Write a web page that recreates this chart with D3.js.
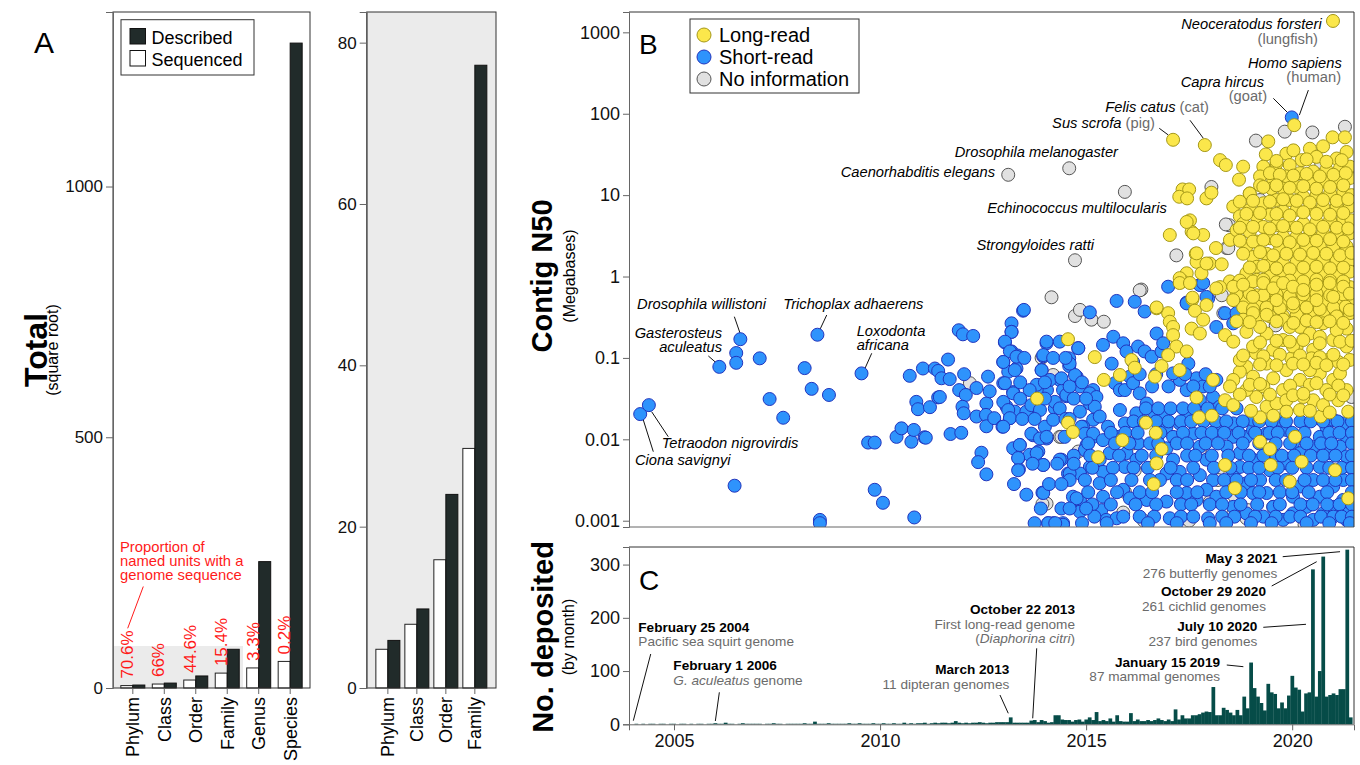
<!DOCTYPE html>
<html lang="en">
<head>
<meta charset="utf-8">
<style>
  body { margin: 0; background: #fff; }
  svg { font-family: "Liberation Sans", Arial, Helvetica, sans-serif; }
  .frame { fill: none; stroke: #333; stroke-width: 1px; }
  .lead { stroke: #111; stroke-width: 1px; fill: none; }
  .sub { fill: #6b6b6b; }
</style>
</head>
<body>
<svg width="1360" height="765"></svg>
<script src="https://cdn.jsdelivr.net/npm/d3@7"></script>
<script>

// ---------- data: panel A (square-root totals) ----------
var ranks = ["Phylum", "Class", "Order", "Family", "Genus", "Species"];
var described = [5.9, 9.8, 24.0, 77.2, 252, 1286];
var sequenced = [4.8, 7.9, 15.9, 29.7, 40, 53];
var proportion = ["70.6%", "66%", "44.6%", "15.4%", "3.3%", "0.2%"];
var ticksA = [0, 500, 1000];
var ticksInset = [0, 20, 40, 60, 80];

// ---------- data: panel B (year, log10 contig N50 in Mb) ----------
var longRead = [
  [2020.99,3.14],[2017.11,1.68],[2017.88,1.615],[2020.05,1.86],
  [2018.25,1.43],[2018.39,1.37],[2018.81,1.35],[2018.71,1.19],[2017.34,1.07],[2017.50,1.07],[2017.26,0.98],[2017.45,0.96],
  [2017.92,0.96],[2018.04,1.03],[2017.52,0.69],[2017.56,0.55],[2017.03,0.51],[2017.84,0.51],[2018.15,0.35],[2017.66,0.28],
  [2017.68,0.18],[2018.00,0.16],[2018.29,0.15],[2017.44,0.04],[2017.35,-0.06],[2017.80,0.04],[2017.58,-0.28],[2016.99,-0.45],
  [2016.71,-0.39],[2018.49,-0.06],[2018.25,-0.13],[2018.65,-0.10],[2018.57,0.86],[2018.49,0.45],[2018.73,0.74],[2018.97,1.02],
  [2018.73,0.92],[2018.65,0.57],[2018.89,0.37],[2017.44,0.67],[2017.60,0.53],[2017.27,-0.02],[2017.68,0.285],[2017.92,0.16],
  [2019.42,1.66],[2019.36,1.50],[2019.86,1.51],[2020.03,1.55],[2020.43,1.57],[2020.75,1.60],[2020.98,1.71],[2021.28,1.71],
  [2021.32,1.53],[2021.08,1.45],[2020.59,1.47],[2020.23,1.43],
  [2019.94,1.37],[2019.62,1.39],[2019.30,1.35],[2019.22,1.23],[2019.54,1.19],[2019.86,1.23],[2020.19,1.27],[2020.51,1.29],
  [2020.83,1.31],[2021.16,1.33],[2021.40,1.35],[2021.40,1.21],[2021.08,1.17],[2020.75,1.17],[2020.43,1.14],[2020.11,1.10],
  [2019.78,1.08],[2019.50,1.08],[2019.22,1.12],
  [2018.97,1.02],[2019.30,0.90],[2019.62,0.94],[2019.94,0.94],[2020.27,0.98],[2020.59,1.00],[2020.92,1.02],[2021.24,1.04],
  [2021.44,1.00],[2021.40,0.86],[2021.08,0.86],[2020.75,0.86],[2020.43,0.84],[2020.11,0.82],[2019.78,0.80],[2019.46,0.76],
  [2019.14,0.74],[2018.97,0.82],
  [2018.81,0.65],[2018.97,0.55],[2019.30,0.61],[2019.62,0.63],[2019.94,0.63],[2020.27,0.65],[2020.59,0.67],[2020.92,0.69],
  [2021.24,0.71],[2021.44,0.69],[2021.40,0.53],[2021.08,0.53],[2020.75,0.53],[2020.43,0.51],[2020.11,0.49],[2019.78,0.49],
  [2019.46,0.47],[2019.14,0.43],
  [2019.05,0.24],[2019.38,0.28],[2019.70,0.33],[2020.03,0.35],[2020.35,0.37],[2020.67,0.37],[2021.00,0.37],[2021.32,0.37],
  [2021.40,0.20],[2021.08,0.20],[2020.75,0.20],[2020.43,0.18],[2020.11,0.18],[2019.78,0.16],[2019.46,0.14],[2019.14,0.12],
  [2018.89,0.04],[2019.14,-0.04],[2019.46,0.00],[2019.78,0.00],[2020.11,0.02],[2020.43,0.04],[2020.75,0.04],[2021.08,0.04],
  [2021.40,0.06],[2021.40,-0.13],[2021.08,-0.13],[2020.75,-0.13],[2020.43,-0.15],[2020.11,-0.17],[2019.78,-0.19],[2019.46,-0.21],
  [2019.14,-0.23],
  [2018.89,-0.29],[2019.22,-0.37],[2019.54,-0.33],[2019.86,-0.33],[2020.19,-0.31],[2020.51,-0.29],[2020.83,-0.29],[2021.16,-0.29],
  [2021.40,-0.29],[2021.40,-0.45],[2021.08,-0.45],[2020.75,-0.45],[2020.43,-0.45],[2020.11,-0.47],[2019.78,-0.49],[2019.46,-0.49],
  [2019.14,-0.49],
  [2019.62,1.42],[2020.35,1.44],[2020.83,1.41],[2021.20,1.43],
  [2019.46,1.27],[2019.70,1.25],[2020.03,1.24],[2020.35,1.26],[2020.67,1.23],[2021.00,1.25],[2021.30,1.27],
  [2019.30,1.10],[2019.62,1.12],[2019.94,1.09],[2020.27,1.11],[2020.59,1.08],[2020.92,1.10],[2021.24,1.12],
  [2019.05,0.93],[2019.46,0.92],[2019.78,0.95],[2020.11,0.93],[2020.43,0.91],[2020.75,0.94],[2021.08,0.93],[2021.36,0.95],
  [2018.89,0.77],[2019.22,0.78],[2019.62,0.77],[2019.94,0.75],[2020.27,0.79],[2020.59,0.77],[2020.92,0.76],[2021.24,0.78],
  [2018.73,0.60],[2019.05,0.61],[2019.46,0.59],[2019.78,0.62],[2020.11,0.60],[2020.43,0.58],[2020.75,0.61],[2021.08,0.60],[2021.36,0.59],
  [2018.73,0.44],[2019.05,0.43],[2019.30,0.45],[2019.62,0.44],[2019.94,0.42],[2020.27,0.45],[2020.59,0.44],[2020.92,0.46],[2021.24,0.43],
  [2018.81,0.28],[2019.22,0.30],[2019.54,0.26],[2019.86,0.28],[2020.19,0.27],[2020.51,0.29],[2020.83,0.28],[2021.16,0.26],[2021.44,0.29],
  [2018.97,0.11],[2019.30,0.13],[2019.62,0.10],[2019.94,0.09],[2020.27,0.11],[2020.59,0.12],[2020.92,0.10],[2021.24,0.11],
  [2018.73,-0.05],[2019.05,-0.06],[2019.30,-0.04],[2019.62,-0.07],[2019.94,-0.05],[2020.27,-0.06],[2020.59,-0.04],[2020.92,-0.05],[2021.24,-0.06],
  [2018.65,-0.22],[2018.97,-0.21],[2019.30,-0.23],[2019.62,-0.22],[2019.94,-0.24],[2020.27,-0.22],[2020.59,-0.21],[2020.92,-0.23],[2021.24,-0.22],
  [2018.81,-0.38],[2019.05,-0.40],[2019.38,-0.38],[2019.70,-0.39],[2020.03,-0.37],[2020.35,-0.38],[2020.67,-0.40],[2021.00,-0.38],[2021.30,-0.37],
  [2016.71,-0.38],[2017.58,-0.26],[2017.64,-0.42],[2017.92,-0.35],[2017.84,-0.53],[2017.56,-0.64],[2017.76,-0.70],[2017.03,-0.555],
  [2017.11,-0.62],[2017.11,-0.72],[2017.19,-0.86],[2017.44,-0.92],[2017.27,-1.15],[2016.99,-0.965],[2016.83,-1.10],[2016.67,-1.23],
  [2016.10,-1.025],[2016.18,-1.12],[2015.82,-1.21],[2015.21,-0.99],[2015.43,-1.27],[2014.56,-0.77],[2013.81,-1.50],[2014.56,-1.795],
  [2014.68,-1.91],[2015.88,-2.01],[2016.45,-1.795],[2016.69,-1.92],[2016.83,-2.12],[2016.71,-2.295],[2015.29,-2.22],[2016.64,-2.55],
  [2017.68,-1.485],[2017.74,-1.73],[2018.05,-1.71],[2018.37,-2.315],[2018.61,-2.60],[2019.22,-2.03],[2019.46,-2.12],[2019.48,-2.315],
  [2019.94,-2.52],[2020.07,-1.97],[2020.23,-2.275],[2021.04,-2.38],[2021.36,-2.725],[2021.36,-1.66],[2020.69,-1.72],
  [2017.27,-0.08],[2017.52,-0.08],[2018.16,-0.145],[2018.57,-0.125],[2018.81,-0.10],[2019.30,-0.08],[2019.54,-0.145],[2019.78,-0.08],
  [2020.02,-0.125],[2020.27,-0.165],[2020.59,-0.10],[2020.91,-0.08],[2021.24,-0.125],[2021.40,-0.21],
  [2018.81,-0.53],[2019.05,-0.45],[2019.38,-0.47],[2019.78,-0.53],[2020.19,-0.62],[2020.43,-0.70],[2020.75,-0.575],[2021.08,-0.49],
  [2021.40,-0.41],[2021.32,-0.64],
  [2018.37,-0.72],[2018.89,-0.68],[2019.38,-0.70],[2019.78,-0.78],[2020.11,-0.86],[2020.51,-0.90],[2020.995,-0.78],[2021.32,-0.86],
  [2021.40,-1.025],[2019.12,-0.94],[2019.54,-0.90],[2019.98,-1.005],[2020.47,-1.005],[2020.87,-1.025],[2021.12,-1.05],
  [2018.89,-1.11],[2018.73,-1.17],[2018.57,-1.27],[2018.49,-1.35],[2019.05,-1.23],[2019.54,-1.25],[2019.78,-1.395],[2020.19,-1.27],
  [2020.67,-1.19],[2020.995,-1.27],[2021.32,-1.395],
  [2018.37,-1.52],[2018.57,-1.58],[2019.13,-1.48],[2019.38,-1.60],[2019.62,-1.56],[2019.86,-1.52],[2020.51,-1.52],[2020.75,-1.58],
  [2021.12,-1.52],[2018.08,-1.27],[2019.22,-1.73],[2019.54,-1.71],[2020.19,-1.64],
  [2018.57,-0.29],[2019.05,-0.25],[2020.02,-0.33],[2020.59,-0.29],[2020.995,-0.25],[2019.62,-0.29],[2019.22,-0.62],[2019.94,-0.62],
  [2020.67,-0.74],[2021.08,-0.66],[2019.38,-1.07],[2019.86,-1.15],[2020.43,-1.15],[2021.16,-1.19],[2020.02,-0.86],[2019.05,-0.86],
  [2018.73,-1.025],[2020.83,-1.395],[2020.27,-1.48],[2019.30,-1.35],[2018.89,-1.395],
  [2018.65,-0.55],[2018.97,-0.56],[2019.62,-0.55],[2020.03,-0.57],[2020.35,-0.54],[2020.59,-0.56],[2020.91,-0.55],[2021.24,-0.57],
  [2018.57,-0.80],[2019.22,-0.81],[2019.62,-0.79],[2019.94,-0.80],[2020.27,-0.78],[2020.67,-0.82],[2021.16,-0.80],[2021.44,-0.79],
  [2018.81,-0.97],[2019.30,-0.98],[2019.70,-0.96],[2020.19,-0.97],[2020.67,-0.99],[2021.00,-0.96],
  [2019.22,-1.08],[2019.62,-1.09],[2020.02,-1.07],[2020.27,-1.08],[2020.59,-1.06],[2020.83,-1.09],[2021.24,-1.08],
  [2018.97,-1.33],[2019.22,-1.32],[2019.95,-1.34],[2020.43,-1.33],[2020.59,-1.31],[2021.12,-1.34],
  [2018.73,-1.45],[2019.46,-1.45],[2020.02,-1.46],[2020.27,-1.44],[2020.91,-1.45],[2021.24,-1.46],
  [2019.00,-1.65],[2019.86,-1.66],[2020.43,-1.65],[2020.91,-1.67]
];

var shortRead = [
  [2019.99,1.955],
  [2004.18,-1.69],[2004.39,-1.58],[2006.10,-1.11],[2006.51,-0.94],[2006.51,-1.06],[2006.61,-0.77],[2007.08,-1.005],[2007.32,-1.505],
  [2007.65,-1.735],[2006.47,-2.57],[2008.17,-1.125],[2008.34,-1.38],[2008.76,-1.455],[2008.48,-0.715],[2008.54,-2.99],[2008.54,-3.03],
  [2009.55,-1.19],[2009.71,-2.04],[2009.87,-2.04],[2009.87,-2.62],[2010.07,-2.78],[2010.40,-1.97],[2010.52,-1.865],[2010.76,-2.03],
  [2010.82,-1.885],[2011.08,-1.975],[2010.72,-1.22],[2010.88,-1.54],[2010.92,-1.63],[2011.21,-1.605],[2011.04,-1.13],[2011.33,-1.13],
  [2011.41,-1.16],[2011.41,-1.485],[2010.83,-2.96],
  [2011.65,-1.02],[2011.49,-1.25],[2011.69,-1.26],[2011.91,-0.66],[2012.01,-0.71],[2012.26,-0.73],[2012.04,-1.20],[2011.45,-1.48],
  [2011.92,-1.395],[2012.08,-1.455],[2012.00,-1.60],[2012.03,-1.68],[2012.34,-1.37],[2012.58,-1.56],[2012.66,-1.41],[2012.99,-1.31],
  [2013.23,-1.42],[2012.62,-1.23],[2011.11,-1.98],[2011.71,-1.935],[2011.97,-1.92],[2012.34,-1.72],[2012.57,-1.70],[2012.58,-1.84],
  [2012.77,-1.74],[2012.97,-1.845],[2013.15,-1.74],[2013.27,-1.66],[2013.07,-1.60],[2013.47,-0.42],[2013.19,-0.575],[2013.19,-0.68],
  [2013.03,-0.81],[2013.19,-0.92],[2013.33,-0.97],[2012.99,-1.05],[2013.11,-1.17],[2013.31,-1.13],[2012.46,-2.165],[2012.38,-2.28],
  [2012.58,-2.43],[2013.55,-2.68],[2013.94,-2.655],[2013.39,-2.07],[2013.23,-2.11],[2013.36,-2.23],[2013.37,-2.37],[2013.63,-2.19],
  [2013.84,-2.15],[2014.04,-1.99],[2013.71,-1.95],[2014.00,-1.845],[2013.96,-2.315],[2014.40,-2.25],[2015.09,-0.44],[2014.04,-0.82],
  [2013.96,-0.98],[2013.92,-1.15],[2014.36,-0.80],[2014.81,-0.88],[2014.59,-1.005],[2014.59,-1.10],[2014.77,-1.23],[2014.36,-1.27],
  [2014.44,-1.395],[2014.52,-1.47],[2014.24,-1.62],[2014.05,-1.395],[2013.80,-1.395],[2013.71,-1.66],[2013.59,-1.66],[2014.85,-1.35],
  [2015.17,-1.395],[2015.09,-1.56],[2015.17,-1.76],[2014.93,-1.845],[2015.17,-1.97],[2015.01,-2.07],[2015.09,-2.34],[2014.85,-2.42],
  [2014.56,-2.42],[2014.68,-2.705],[2014.85,-2.87],[2014.20,-3.03],[2014.44,-3.03],[2014.08,-3.03],
  [2013.19,-0.68],[2013.03,-0.80],[2013.15,-0.92],[2013.31,-0.985],[2012.99,-1.05],[2013.27,-1.15],[2013.03,-1.31],[2013.23,-1.435],
  [2012.99,-1.54],[2013.11,-1.64],[2013.15,-1.74],[2012.99,-1.845],[2013.39,-2.07],[2013.35,-2.23],[2013.35,-2.38],[2013.96,-2.66],
  [2014.08,-3.03],[2014.44,-3.05],
  [2014.04,-0.80],[2013.92,-1.15],[2013.96,-0.965],[2013.80,-1.33],[2013.63,-1.395],[2013.55,-1.66],[2013.67,-1.58],[2013.88,-1.64],
  [2014.12,-1.27],[2014.40,-1.25],[2014.24,-1.54],[2014.36,-1.62],[2014.52,-1.455],[2014.60,-1.35],[2014.73,-1.21],[2014.60,-1.07],
  [2014.81,-0.88],[2013.67,-1.93],[2013.88,-1.99],[2014.04,-1.97],[2013.80,-2.17],[2013.96,-2.315],[2014.36,-2.25],[2014.60,-2.42],
  [2014.20,-1.76],[2014.48,-1.97],[2014.89,-1.845],[2014.85,-1.66],[2015.09,-1.435],[2014.97,-1.93],[2014.97,-2.13],[2014.97,-2.50],
  [2014.85,-2.745],[2014.85,-2.89],[2014.77,-2.725],
  [2015.25,-1.48],[2015.21,-1.60],[2015.33,-1.72],[2015.17,-1.93],[2015.41,-2.01],[2015.53,-1.845],[2015.57,-2.17],[2015.33,-2.25],
  [2015.41,-2.40],[2015.33,-2.54],[2015.41,-2.705],[2015.37,-2.87],[2015.49,-2.99],[2015.74,-2.97],[2015.70,-1.31],[2015.82,-1.395],
  [2015.62,-1.07],[2015.41,-0.84],[2015.66,-0.74],[2015.90,-0.82],[2015.98,-0.92],[2016.14,-1.05],[2016.06,-1.23],[2015.94,-1.395],
  [2015.82,-1.64],[2015.94,-1.805],[2015.78,-1.97],[2015.98,-2.17],[2016.22,-2.25],[2015.94,-2.34],[2015.90,-2.62],[2016.06,-2.725],
  [2016.26,-0.86],[2016.42,-0.92],[2016.59,-0.985],[2016.71,-0.70],[2016.83,-0.92],[2016.87,-0.82],[2016.14,-1.31],[2016.30,-1.435],
  [2016.22,-1.68],[2016.26,-2.05],
  [2016.47,-1.56],[2016.63,-1.66],[2016.87,-1.72],[2016.95,-1.845],[2017.11,-1.97],[2016.95,-2.11],[2017.11,-2.25],[2017.27,-2.40],
  [2016.95,-2.42],[2016.79,-2.50],[2016.95,-2.765],[2017.03,-2.97],[2016.47,-2.745],[2016.55,-2.05],[2017.27,-1.805],[2017.44,-1.68],
  [2017.44,-1.395],[2017.27,-1.27],[2017.11,-1.19],[2017.48,-1.07],[2017.68,-1.25],[2017.84,-1.35],[2017.76,-1.52],[2017.60,-1.93],
  [2017.76,-2.09],[2017.92,-2.25],[2017.76,-2.44],[2018.08,-2.50],[2017.92,-2.62],[2018.16,-2.705],[2017.96,-2.97],[2017.44,-2.66],
  [2017.68,-2.745],
  [2018.16,-1.27],[2018.08,-1.48],[2018.24,-1.60],[2018.57,-1.805],[2018.16,-1.885],[2018.57,-1.97],[2018.41,-2.09],[2018.73,-2.17],
  [2018.89,-1.97],[2019.05,-1.885],[2018.73,-2.34],[2019.05,-2.25],[2018.57,-2.46],[2018.89,-2.54],[2019.22,-2.50],[2019.05,-2.66],
  [2019.38,-2.66],[2018.57,-2.83],[2018.89,-2.91],[2019.30,-2.95],[2019.54,-2.83],[2019.46,-2.38],[2019.62,-2.21],[2019.38,-1.93],
  [2019.86,-1.885],[2019.70,-1.76],[2019.05,-1.76],
  [2020.02,-2.05],[2020.19,-2.17],[2019.86,-2.295],[2020.51,-2.09],[2020.67,-1.97],[2020.83,-1.845],[2020.995,-1.76],[2021.24,-1.805],
  [2021.32,-1.97],[2021.16,-2.09],[2020.91,-2.17],[2020.67,-2.34],[2020.51,-2.50],[2020.19,-2.58],[2020.02,-2.705],[2020.35,-2.83],
  [2020.67,-2.705],[2020.995,-2.58],[2021.24,-2.50],[2021.40,-2.34],[2021.32,-2.21],[2021.36,-2.91],[2021.32,-2.99],[2021.08,-2.91],
  [2020.75,-2.91],[2020.51,-2.99],[2020.02,-2.91],[2019.78,-2.99],[2021.24,-2.745],[2020.995,-2.83],
  [2016.99,-0.125],[2015.74,-0.30],[2016.18,-0.31],[2016.42,-0.43],[2013.49,-0.41],[2017.44,-0.32],[2017.96,-0.27],[2017.76,-0.105],
  [2018.16,-0.62],[2018.57,-0.575],[2018.73,-0.47],[2017.84,-0.08],[2017.44,-0.33],[2017.92,-0.25],[2018.37,-0.45],[2018.65,-0.45],
  [2016.45,-1.62],[2016.75,-1.62],[2017.05,-1.62],[2017.35,-1.62],[2017.62,-1.62],[2017.95,-1.62],[2018.30,-1.62],[2018.65,-1.62],
  [2016.15,-1.78],[2016.40,-1.78],[2016.70,-1.78],[2017.00,-1.78],[2017.30,-1.78],[2017.55,-1.78],[2017.85,-1.78],[2018.15,-1.78],
  [2018.40,-1.78],[2018.80,-1.78],[2019.20,-1.78],[2019.50,-1.78],[2019.85,-1.78],[2020.20,-1.78],[2020.45,-1.78],[2020.75,-1.78],
  [2021.10,-1.78],[2021.45,-1.78],
  [2015.60,-1.92],[2015.95,-1.92],[2016.25,-1.92],[2016.80,-1.92],[2017.35,-1.92],[2017.80,-1.92],[2018.05,-1.92],[2018.35,-1.92],
  [2018.70,-1.92],[2019.10,-1.92],[2019.45,-1.92],[2019.65,-1.92],[2020.00,-1.92],[2020.30,-1.92],[2020.90,-1.92],[2021.15,-1.92],
  [2021.45,-1.92],
  [2015.05,-2.05],[2015.70,-2.05],[2016.05,-2.05],[2016.75,-2.05],[2017.20,-2.05],[2017.45,-2.05],[2017.90,-2.05],[2018.20,-2.05],
  [2018.80,-2.05],[2019.20,-2.05],[2019.60,-2.05],[2019.95,-2.05],[2020.35,-2.05],[2020.70,-2.05],[2020.95,-2.05],[2021.45,-2.05],
  [2014.70,-2.20],[2015.10,-2.20],[2015.80,-2.20],[2016.35,-2.20],[2016.70,-2.20],[2017.45,-2.20],[2017.65,-2.20],[2018.05,-2.20],
  [2018.45,-2.20],[2018.95,-2.20],[2019.30,-2.20],[2019.75,-2.20],[2020.05,-2.20],[2020.45,-2.20],[2020.75,-2.20],[2021.05,-2.20],
  [2021.45,-2.20],
  [2015.15,-2.35],[2015.65,-2.35],[2016.15,-2.35],[2016.50,-2.35],[2017.05,-2.35],[2017.60,-2.35],[2018.10,-2.35],[2018.50,-2.35],
  [2018.95,-2.35],[2019.20,-2.35],[2019.65,-2.35],[2020.00,-2.35],[2020.35,-2.35],[2020.90,-2.35],[2021.20,-2.35],[2021.45,-2.35],
  [2014.60,-2.50],[2015.60,-2.50],[2016.10,-2.50],[2016.55,-2.50],[2017.20,-2.50],[2017.45,-2.50],[2018.35,-2.50],[2018.65,-2.50],
  [2019.00,-2.50],[2019.60,-2.50],[2019.85,-2.50],[2020.30,-2.50],[2020.75,-2.50],[2021.05,-2.50],[2021.45,-2.50],
  [2015.05,-2.65],[2015.75,-2.65],[2016.30,-2.65],[2016.60,-2.65],[2017.20,-2.65],[2017.70,-2.65],[2018.40,-2.65],[2018.75,-2.65],
  [2019.20,-2.65],[2019.70,-2.65],[2020.00,-2.65],[2020.40,-2.65],[2020.85,-2.65],[2021.45,-2.65],
  [2015.15,-2.80],[2015.60,-2.80],[2016.20,-2.80],[2016.70,-2.80],[2017.30,-2.80],[2017.55,-2.80],[2018.00,-2.80],[2018.30,-2.80],
  [2018.75,-2.80],[2019.15,-2.80],[2019.70,-2.80],[2020.20,-2.80],[2020.50,-2.80],[2020.85,-2.80],[2021.15,-2.80],[2021.45,-2.80],
  [2015.20,-2.95],[2015.90,-2.95],[2016.30,-2.95],[2016.65,-2.95],[2017.30,-2.95],[2017.60,-2.95],[2018.30,-2.95],[2018.60,-2.95],
  [2019.10,-2.95],[2019.60,-2.95],[2019.95,-2.95],[2020.20,-2.95],[2020.70,-2.95],[2021.00,-2.95],[2021.20,-2.95],[2021.45,-2.95],
  [2014.90,-3.03],[2015.50,-3.03],[2016.50,-3.03],[2017.20,-3.03],[2018.00,-3.03],[2018.40,-3.03],[2019.00,-3.03],[2019.50,-3.03],
  [2020.35,-3.03],[2020.90,-3.03],[2021.40,-3.03],
  [2016.60,-1.35],[2017.00,-1.35],[2017.60,-1.35],[2018.00,-1.35],[2016.30,-1.20],[2016.70,-1.20],[2017.40,-1.20],[2017.90,-1.20],
  [2013.50,-1.00],[2014.20,-1.00],[2014.50,-1.00],[2013.40,-1.30],[2014.00,-1.30],[2014.90,-1.30],[2013.40,-1.50],[2014.00,-1.50],
  [2014.70,-1.50],[2015.00,-1.50],[2013.45,-1.75],[2013.75,-1.75],[2014.50,-1.75],[2014.60,-1.75],[2013.70,-2.30],[2014.30,-2.30],
  [2014.70,-2.30],[2013.25,-2.55],[2014.10,-2.55],[2014.40,-2.55],[2013.90,-2.85],[2014.40,-2.85],[2014.60,-2.85],[2015.00,-2.85],
  [2013.75,-3.03],[2014.25,-3.03]
];

var noInfo = [
  [2013.11,1.25],[2014.59,1.33],[2015.94,1.04],[2014.73,0.20],[2014.16,-0.255],[2014.73,-0.485],[2014.85,-0.41],[2015.13,-0.53],
  [2015.43,-0.555],[2013.92,-1.00],[2014.20,-1.21],[2014.36,-1.97],[2014.81,-2.15],[2016.14,-2.05],[2016.18,-2.38],[2015.94,-2.645],
  [2014.04,-2.79],[2017.32,-2.79],[2017.32,-2.97],[2017.76,-2.13],[2018.20,-2.38],[2018.20,-2.50],[2018.00,-2.77],[2018.57,-2.91],
  [2018.89,-2.97],[2018.93,-2.87],[2019.54,-2.83],[2012.18,-1.31],[2013.94,-2.795],[2014.40,-1.97],[2016.34,-0.16],[2019.82,1.78],
  [2020.49,1.77],[2021.28,1.84],[2019.12,1.67],[2018.04,1.10],[2018.47,0.63],[2018.41,0.35],[2017.19,0.26],[2016.30,-0.17],
  [2018.39,0.64],[2018.45,0.35],[2018.29,-0.23],[2018.33,-0.45],[2019.22,0.94],[2019.50,1.30],[2020.70,1.40],[2021.30,0.20],
  [2018.90,-0.10],[2019.60,-0.60],[2021.44,-1.48],[2015.90,-2.90],[2016.40,-3.00],[2017.50,-3.00],[2019.50,-3.00],[2020.30,-3.05],
  [2018.60,-2.70]
];

// ---------- data: panel C (genomes deposited per month, Jan 2004 onwards) ----------
var countsStartYear = 2004;
var monthlyCounts = [
  0,1,0,1,0,1,1,0,1,1,0,1,        // 2004
  1,0,1,1,0,1,0,1,1,0,1,1,        // 2005
  2,1,1,3,1,1,0,1,2,1,1,1,        // 2006
  1,1,0,1,1,2,1,1,0,1,1,1,        // 2007
  1,1,2,1,1,5,1,1,1,2,1,1,        // 2008
  1,1,1,2,1,1,2,1,1,1,2,1,        // 2009
  1,2,1,1,2,1,1,3,1,2,1,2,        // 2010
  2,3,1,2,3,2,3,3,2,3,6,3,        // 2011
  2,3,2,3,3,4,3,2,3,3,4,4,        // 2012
  4,4,13,3,3,3,3,3,7,8,4,8,       // 2013
  6,3,4,17,17,9,8,8,5,8,9,5,      // 2014
  9,13,8,23,6,8,6,11,5,17,6,5,    // 2015
  5,21,6,9,6,6,8,6,8,11,8,6,      // 2016
  9,6,28,9,17,11,11,17,17,19,22,24,        // 2017
  23,70,17,17,31,27,22,17,27,17,52,30,     // 2018
  116,68,52,40,26,76,60,57,30,41,30,54,    // 2019
  91,69,65,24,58,60,291,52,100,315,52,55,  // 2020
  58,55,66,66,328,13                       // 2021
];

// ---------- annotations ----------
var bNotes = [
  { name: "Neoceratodus forsteri", common: "(lungfish)", pt: [2020.99, 3.14] },
  { name: "Homo sapiens", common: "(human)", pt: [2019.99, 1.955] },
  { name: "Capra hircus", common: "(goat)", pt: [2020.05, 1.86] },
  { name: "Felis catus", common: "(cat)", pt: [2017.88, 1.615] },
  { name: "Sus scrofa", common: "(pig)", pt: [2017.11, 1.68] },
  { name: "Drosophila melanogaster", pt: [2014.59, 1.33] },
  { name: "Caenorhabditis elegans", pt: [2013.11, 1.25] },
  { name: "Echinococcus multilocularis", pt: [2015.94, 1.04] },
  { name: "Strongyloides ratti", pt: [2014.73, 0.20] },
  { name: "Drosophila willistoni", pt: [2006.61, -0.77] },
  { name: "Gasterosteus\naculeatus", pt: [2006.10, -1.11] },
  { name: "Trichoplax adhaerens", pt: [2008.48, -0.715] },
  { name: "Loxodonta\nafricana", pt: [2009.55, -1.19] },
  { name: "Tetraodon nigrovirdis", pt: [2004.39, -1.58] },
  { name: "Ciona savignyi", pt: [2004.18, -1.69] }
];
// label placement (pixel offsets from the point)
var bLayout = [
  { a: "end", n: [-11.3, 8.5], c: [-15, 22.8] },
  { a: "end", n: [50, -49.8], c: [49.3, -35.3], l: [16.6, -27.3, 7.6, -2.3] },
  { a: "end", n: [-30.2, -38.4], c: [-27.2, -23.9], l: [-20.9, -26.8, -5.9, -11.8] },
  { a: "end", n: [4.2, -32.6], inline: true, l: [-14.8, -24.8, -1.5, -6.8] },
  { a: "end", n: [-18.1, -11.3], inline: true, l: [-13.8, -11.5, -4.8, -4.8] },
  { a: "end", n: [48.8, -11.3] },
  { a: "end", n: [-13.2, 2] },
  { a: "end", n: [41.9, 21] },
  { a: "end", n: [19, -10.5] },
  { a: "end", n: [25.7, -30.2], l: [-6, -22.5, -0.3, -6] },
  { a: "end", n: [2.7, -29], l: [-11, -10.9, -2.6, -3.6] },
  { a: "start", n: [-34.1, -25.7], l: [9.3, -19.7, 2.6, -5.4] },
  { a: "start", n: [-4.8, -37.7], l: [10.2, -20.1, 3.5, -5.1] },
  { a: "start", n: [12.8, 43], l: [2.8, 6.6, 19.4, 31.6] },
  { a: "start", n: [-5.2, 51], l: [3.1, 5.9, 13.1, 37.6] }
];

var cNotes = [
  { year: 2004, month: 2, head: "February 25 2004", sub: ["Pacific sea squirt genome"] },
  { year: 2006, month: 2, head: "February 1 2006", sub: ["_G. aculeatus_ genome"] },
  { year: 2013, month: 3, head: "March 2013", sub: ["11 dipteran genomes"] },
  { year: 2013, month: 10, head: "October 22 2013", sub: ["First long-read genome", "(_Diaphorina citri_)"] },
  { year: 2019, month: 1, head: "January 15 2019", sub: ["87 mammal genomes"] },
  { year: 2020, month: 7, head: "July 10 2020", sub: ["237 bird genomes"] },
  { year: 2020, month: 10, head: "October 29 2020", sub: ["261 cichlid genomes"] },
  { year: 2021, month: 5, head: "May 3 2021", sub: ["276 butterfly genomes"] }
];
// pixel offsets from the bar's foot (centre, baseline)
var cLayout = [
  { a: "start", t: [2.1, -92.6], l: [14.5, -70.3, -2.9, -3.6] },
  { a: "start", t: [-45.3, -54.3], l: [0.7, -32, -3.3, -3.3] },
  { a: "end", t: [-1.3, -50.3], l: [-10.6, -29.3, -2.3, -11] },
  { a: "end", t: [40.4, -110.3], l: [2.1, -76, -1.9, -6] },
  { a: "end", t: [-30.9, -57.6], l: [-24.2, -59.3, -7.6, -57.6] },
  { a: "end", t: [-55.5, -93.3], l: [-49.5, -97, -6.8, -100] },
  { a: "end", t: [-57.1, -128.3], l: [-51.4, -138.3, -6.4, -162.6] },
  { a: "end", t: [-69.8, -161], l: [-64.4, -167.6, -7.1, -172.6] }
];

// ---------- helpers ----------
var svg = d3.select("svg");

function tidyAxis(g, size) {
  g.attr("font-family", null).attr("font-size", null);
  g.select(".domain").attr("stroke", "#666");
  g.selectAll(".tick line").attr("stroke", "#666");
  g.selectAll(".tick text").attr("font-size", size).attr("fill", "#111");
}

function richText(sel, str, italicAll) {
  str.split("_").forEach(function(part, i) {
    if (!part) return;
    sel.append("tspan").text(part)
      .attr("font-style", (italicAll || i % 2 === 1) ? "italic" : null);
  });
}

function vLabel(x, y, txt, size, bold) {
  svg.append("text")
    .attr("transform", "translate(" + x + "," + y + ") rotate(-90)")
    .attr("text-anchor", "middle")
    .attr("font-size", size)
    .attr("font-weight", bold ? "bold" : null)
    .text(txt);
}

// ================= Panel A =================
var yA = d3.scaleLinear().domain([0, 1348]).range([688, 12]);
var xA = d3.scalePoint().domain(ranks).range([113, 310]).padding(0.63);
var insetRanks = ranks.slice(0, 4);
var insetMax = 83.8;
var yI = d3.scaleLinear().domain([0, insetMax]).range([688, 12]);
var xI = d3.scalePoint().domain(insetRanks).range([366.7, 496]).padding(0.73);
var barW = 12;

var gA = svg.append("g");
gA.append("rect")
  .attr("x", 113).attr("y", yA(insetMax))
  .attr("width", (xA("Family") + xA("Genus")) / 2 - 113)
  .attr("height", yA(0) - yA(insetMax))
  .attr("fill", "#ebebeb");

function drawBars(g, xs, ys, n) {
  var rows = d3.range(n).map(function(i) { return { r: ranks[i], s: sequenced[i], d: described[i] }; });
  g.selectAll(".seq").data(rows).enter().append("rect")
    .attr("x", function(d) { return xs(d.r) - barW; })
    .attr("y", function(d) { return ys(d.s); })
    .attr("width", barW)
    .attr("height", function(d) { return ys(0) - ys(d.s); })
    .attr("fill", "#fff").attr("stroke", "#222").attr("stroke-width", 1);
  g.selectAll(".des").data(rows).enter().append("rect")
    .attr("x", function(d) { return xs(d.r); })
    .attr("y", function(d) { return ys(d.d); })
    .attr("width", barW)
    .attr("height", function(d) { return ys(0) - ys(d.d); })
    .attr("fill", "#212b2a").attr("stroke", "#111").attr("stroke-width", 1);
}
drawBars(gA, xA, yA, 6);

gA.append("rect").attr("class", "frame").attr("x", 113).attr("y", 12).attr("width", 197).attr("height", 676);
gA.append("g").attr("transform", "translate(113,0)")
  .call(d3.axisLeft(yA).tickValues(ticksA).tickFormat(d3.format("d")).tickSize(7).tickPadding(3))
  .call(tidyAxis, 17);

function catAxis(g, xs, list) {
  list.forEach(function(r) {
    g.append("line").attr("x1", xs(r)).attr("x2", xs(r)).attr("y1", 688).attr("y2", 694).attr("stroke", "#666");
    g.append("text")
      .attr("transform", "translate(" + xs(r) + ",697) rotate(-90)")
      .attr("text-anchor", "end").attr("dy", "0.36em")
      .attr("font-size", 18).text(r);
  });
}
catAxis(gA, xA, ranks);

// proportion labels
ranks.forEach(function(r, i) {
  gA.append("text")
    .attr("transform", "translate(" + (xA(r) - barW / 2) + "," + (yA(sequenced[i]) - 7) + ") rotate(-90)")
    .attr("dy", "0.36em").attr("font-size", 17).attr("fill", "#ff1a1a")
    .text(proportion[i]);
});
var redNote = gA.append("text").attr("fill", "#ff1a1a").attr("font-size", 14.8);
["Proportion of", "named units with a", "genome sequence"].forEach(function(s, i) {
  redNote.append("tspan").attr("x", 120).attr("y", 552 + i * 14).text(s);
});
gA.append("line").attr("x1", 143.3).attr("y1", 586.5).attr("x2", 127.7).attr("y2", 628.3)
  .attr("stroke", "#ff1a1a").attr("stroke-width", 1);

// legend A
var legA = gA.append("g");
legA.append("rect").attr("x", 121).attr("y", 19.7).attr("width", 133).attr("height", 55.3)
  .attr("fill", "#fff").attr("stroke", "#333");
[["Described", "#212b2a", 44], ["Sequenced", "#fff", 66]].forEach(function(d) {
  legA.append("rect").attr("x", 130).attr("y", d[2] - 15.5).attr("width", 15.5).attr("height", 15.5)
    .attr("fill", d[1]).attr("stroke", "#111");
  legA.append("text").attr("x", 151.5).attr("y", d[2]).attr("font-size", 18).text(d[0]);
});
svg.append("text").attr("x", 34).attr("y", 53).attr("font-size", 30).text("A");
vLabel(47, 350, "Total", 32, true);
vLabel(57.5, 350, "(square root)", 16, false);

// inset
var gI = svg.append("g");
gI.append("rect").attr("x", 366.7).attr("y", 12).attr("width", 129.3).attr("height", 676)
  .attr("fill", "#ebebeb");
drawBars(gI, xI, yI, 4);
gI.append("rect").attr("class", "frame").attr("x", 366.7).attr("y", 12).attr("width", 129.3).attr("height", 676);
gI.append("g").attr("transform", "translate(366.7,0)")
  .call(d3.axisLeft(yI).tickValues(ticksInset).tickSize(7).tickPadding(3))
  .call(tidyAxis, 17);
catAxis(gI, xI, insetRanks);

// ================= Panel B =================
var L = 629, R = 1354;
var xT = d3.scaleLinear().domain([2003.908, 2021.5]).range([L, R]);
var yB = d3.scaleLog().domain([0.000837, 1778]).range([527, 12]);
function px(d) { return xT(d[0]); }
function py(d) { return yB(Math.pow(10, d[1])); }

var gB = svg.append("g");
gB.append("defs").append("clipPath").attr("id", "clipB")
  .append("rect").attr("x", L).attr("y", 12).attr("width", R - L).attr("height", 515);

// leader lines under the points
bNotes.forEach(function(d, i) {
  var lay = bLayout[i];
  if (!lay.l) return;
  var x0 = px(d.pt), y0 = py(d.pt);
  gB.append("line").attr("class", "lead")
    .attr("x1", x0 + lay.l[0]).attr("y1", y0 + lay.l[1])
    .attr("x2", x0 + lay.l[2]).attr("y2", y0 + lay.l[3]);
});

var pts = gB.append("g").attr("clip-path", "url(#clipB)");
var series = [
  { data: noInfo, fill: "#e1e1e1", stroke: "#555" },
  { data: shortRead, fill: "#2e93fc", stroke: "#2235bd" },
  { data: longRead, fill: "#fbe74b", stroke: "#a59818" }
];
series.forEach(function(s) {
  pts.append("g").selectAll("circle").data(s.data).enter().append("circle")
    .attr("cx", px).attr("cy", py).attr("r", 6.5)
    .attr("fill", s.fill).attr("stroke", s.stroke).attr("stroke-width", 1);
});

gB.append("line").attr("x1", L).attr("x2", R).attr("y1", 527).attr("y2", 527).attr("stroke", "#666");
gB.append("path").attr("d", "M" + L + ",12H" + R + "V527").attr("fill", "none").attr("stroke", "#333");
gB.append("g").attr("transform", "translate(" + L + ",0)")
  .call(d3.axisLeft(yB).tickValues([0.001, 0.01, 0.1, 1, 10, 100, 1000])
    .tickFormat(function(d) { return String(d); }).tickSize(6).tickPadding(3))
  .call(tidyAxis, 18);

// species labels
bNotes.forEach(function(d, i) {
  var lay = bLayout[i];
  var x0 = px(d.pt), y0 = py(d.pt);
  var t = gB.append("text").attr("font-size", 14.7).attr("text-anchor", lay.a);
  d.name.split("\n").forEach(function(line, k) {
    t.append("tspan").attr("x", x0 + lay.n[0]).attr("y", y0 + lay.n[1] + k * 14.2)
      .attr("font-style", "italic").text(line);
  });
  if (d.common && lay.inline) {
    t.append("tspan").attr("class", "sub").text(" " + d.common);
  } else if (d.common) {
    gB.append("text").attr("class", "sub").attr("font-size", 14.7).attr("text-anchor", lay.a)
      .attr("x", x0 + lay.c[0]).attr("y", y0 + lay.c[1]).text(d.common);
  }
});

// legend B
var legB = gB.append("g");
legB.append("rect").attr("x", 690).attr("y", 19).attr("width", 169).attr("height", 74)
  .attr("fill", "#fff").attr("stroke", "#333");
[["Long-read", 0], ["Short-read", 1], ["No information", 2]].forEach(function(d, i) {
  var s = series[2 - d[1]];
  var cy = 35 + i * 22;
  legB.append("circle").attr("cx", 704).attr("cy", cy).attr("r", 7)
    .attr("fill", s.fill).attr("stroke", s.stroke);
  legB.append("text").attr("x", 719).attr("y", cy + 7).attr("font-size", 20).text(d[0]);
});
svg.append("text").attr("x", 639).attr("y", 54).attr("font-size", 28).text("B");
vLabel(552, 276, "Contig N50", 29, true);
vLabel(575, 276, "(Megabases)", 16, false);

// ================= Panel C =================
var yC = d3.scaleLinear().domain([0, 333]).range([724.3, 547]);
var months = monthlyCounts.map(function(v, i) { return { t: countsStartYear + i / 12, v: v }; });
var mw = xT(countsStartYear + 1 / 12) - xT(countsStartYear);

var gC = svg.append("g");
gC.append("g").selectAll("rect").data(months).enter().append("rect")
  .attr("x", function(d) { return xT(d.t) - mw / 2; })
  .attr("y", function(d) { return yC(d.v); })
  .attr("width", mw + 0.3)
  .attr("height", function(d) { return yC(0) - yC(d.v); })
  .attr("fill", "#064c48");

gC.append("path").attr("d", "M" + L + ",547H" + R + "V724.3").attr("fill", "none").attr("stroke", "#333");
gC.append("g").attr("transform", "translate(" + L + ",0)")
  .call(d3.axisLeft(yC).tickValues([0, 100, 200, 300]).tickSize(6).tickPadding(3))
  .call(tidyAxis, 18);
gC.append("g").attr("transform", "translate(0,724.3)")
  .call(d3.axisBottom(xT).tickValues([2005, 2010, 2015, 2020]).tickFormat(d3.format("d")).tickSize(6).tickPadding(4))
  .call(tidyAxis, 18);

cNotes.forEach(function(d, i) {
  var lay = cLayout[i];
  var bx = xT(d.year + (d.month - 1) / 12), by = yC(0);
  gC.append("line").attr("class", "lead")
    .attr("x1", bx + lay.l[0]).attr("y1", by + lay.l[1])
    .attr("x2", bx + lay.l[2]).attr("y2", by + lay.l[3]);
  gC.append("text").attr("x", bx + lay.t[0]).attr("y", by + lay.t[1])
    .attr("text-anchor", lay.a).attr("font-size", 13.6).attr("font-weight", "bold").text(d.head);
  d.sub.forEach(function(s, k) {
    var t = gC.append("text").attr("class", "sub").attr("x", bx + lay.t[0]).attr("y", by + lay.t[1] + 14.5 * (k + 1))
      .attr("text-anchor", lay.a).attr("font-size", 13.6);
    richText(t, s, false);
  });
});
svg.append("text").attr("x", 639).attr("y", 590).attr("font-size", 28).text("C");
vLabel(553, 637, "No. deposited", 29, true);
vLabel(574, 637, "(by month)", 16, false);

</script>
</body>
</html>
